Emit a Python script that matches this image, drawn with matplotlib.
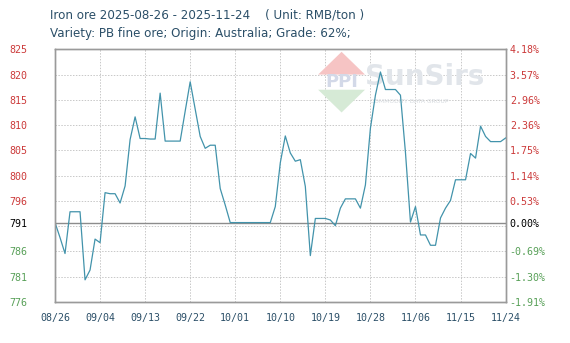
import numpy as np
import pandas as pd
import matplotlib
matplotlib.use('Agg')
import matplotlib.pyplot as plt
from matplotlib.patches import Polygon

# daily price, RMB/ton, 2025-08-26 .. 2025-11-24
start_date = '2025-08-26'
prices = [
    791.4, 788.5, 785.4, 793.5, 793.5, 793.5, 780.3, 782.2, 788.2, 787.5,
    797.2, 797.0, 797.0, 795.2, 798.5, 807.5, 811.9, 807.7, 807.7, 807.6,
    807.6, 816.5, 807.2, 807.2, 807.2, 807.2, 813.0, 818.7, 813.4, 808.1,
    805.8, 806.4, 806.4, 798.0, 794.8, 791.4, 791.4, 791.4, 791.4, 791.4,
    791.4, 791.4, 791.4, 791.4, 794.5, 803.0, 808.2, 804.9, 803.3, 803.6,
    798.4, 785.0, 792.2, 792.2, 792.2, 791.9, 790.8, 794.2, 796.0, 796.0,
    796.0, 794.2, 798.7, 809.7, 816.1, 820.6, 817.2, 817.2, 817.2, 816.1,
    805.0, 791.5, 794.5, 789.0, 789.0, 787.0, 787.0, 792.3, 794.2, 795.7,
    799.7, 799.7, 799.7, 804.8, 803.9, 810.1, 808.1, 807.1, 807.1, 807.1,
    807.8,
]
base_price = 791.4

left_labels = ['776', '781', '786', '791', '796', '800', '805', '810', '815', '820', '825']
right_labels = ['-1.91%', '-1.30%', '-0.69%', '0.00%', '0.53%', '1.14%',
                '1.75%', '2.36%', '2.96%', '3.57%', '4.18%']
x_tick_step = 9

ymin, ymax = 776, 825
TEXT = '#2b4f68'
RED = '#cc3a3a'
GREEN = '#58a058'
LINE = '#4293ab'

dates = pd.date_range(start_date, periods=len(prices), freq='D')

fig = plt.figure(figsize=(5.7, 3.43), dpi=100)
ax = fig.add_axes([0.0965, 0.1195, 0.7905, 0.7368])

# grid
grid_vals = np.linspace(ymin, ymax, 11)
for g in grid_vals:
    ax.axhline(g, color='#c8c8c8', lw=0.7, ls=(0, (1.5, 1.5)), zorder=1)
xticks = dates[::x_tick_step]
for d in xticks:
    ax.axvline(d, color='#c8c8c8', lw=0.7, ls=(0, (1.5, 1.5)), zorder=1)

# watermark
ax.text(0.688, 0.89, 'SunSirs', transform=ax.transAxes, fontsize=20,
        color='#e1e5ea', fontweight='bold', va='center', ha='left', zorder=2)
ax.text(0.70, 0.793, 'COMMODITY DATA GROUP', transform=ax.transAxes, fontsize=4.3,
        color='#d6dadf', va='center', ha='left', zorder=2)
ax.add_patch(Polygon([(0.584, 0.90), (0.636, 0.99), (0.688, 0.90)], closed=True,
                     transform=ax.transAxes, facecolor='#f6c4c4', edgecolor='none', zorder=2))
ax.add_patch(Polygon([(0.584, 0.84), (0.688, 0.84), (0.636, 0.75)], closed=True,
                     transform=ax.transAxes, facecolor='#d6ead6', edgecolor='none', zorder=2))
ax.text(0.636, 0.87, 'PPI', transform=ax.transAxes, fontsize=13, color='#d3d9e8',
        fontweight='bold', va='center', ha='center', zorder=2)

ax.axhline(base_price, color='#8c8c8c', lw=1.0, zorder=3)
ax.plot(dates, prices, color=LINE, lw=0.9, zorder=4)

ax.set_xlim(dates[0], dates[-1])
ax.set_ylim(ymin, ymax)

yticks = list(grid_vals)
yticks[3] = base_price
ax.set_yticks(yticks)
ax.set_yticklabels(left_labels)
ax.set_xticks(xticks)
ax.set_xticklabels([d.strftime('%m/%d') for d in xticks])

ax2 = ax.twinx()
ax2.set_ylim(ymin, ymax)
ax2.set_yticks(yticks)
ax2.set_yticklabels(right_labels)

def lab_color(i):
    if i < 3:
        return GREEN
    if i == 3:
        return 'black'
    return RED

for i, t in enumerate(ax.get_yticklabels()):
    t.set_color(lab_color(i))
    t.set_horizontalalignment('left')
    t.set_fontfamily('DejaVu Sans Mono')
    t.set_fontsize(7.2)
for i, t in enumerate(ax2.get_yticklabels()):
    t.set_color(lab_color(i))
    t.set_fontfamily('DejaVu Sans Mono')
    t.set_fontsize(7.2)
for t in ax.get_xticklabels():
    t.set_color(TEXT)
    t.set_fontfamily('DejaVu Sans Mono')
    t.set_fontsize(7.2)

ax.tick_params(axis='y', length=0, pad=33)
ax.tick_params(axis='x', length=0, pad=8)
ax2.tick_params(axis='y', length=0, pad=3)

for a in (ax, ax2):
    for s in a.spines.values():
        s.set_color('#9a9a9a')
        s.set_linewidth(1.0)

fig.text(50 / 570, 1 - 15 / 343, 'Iron ore 2025-08-26 - 2025-11-24    ( Unit: RMB/ton )',
         fontsize=8.6, color=TEXT, va='center', ha='left')
fig.text(50 / 570, 1 - 33 / 343, 'Variety: PB fine ore; Origin: Australia; Grade: 62%;',
         fontsize=8.6, color=TEXT, va='center', ha='left')

fig.savefig('out.png', dpi=100)
